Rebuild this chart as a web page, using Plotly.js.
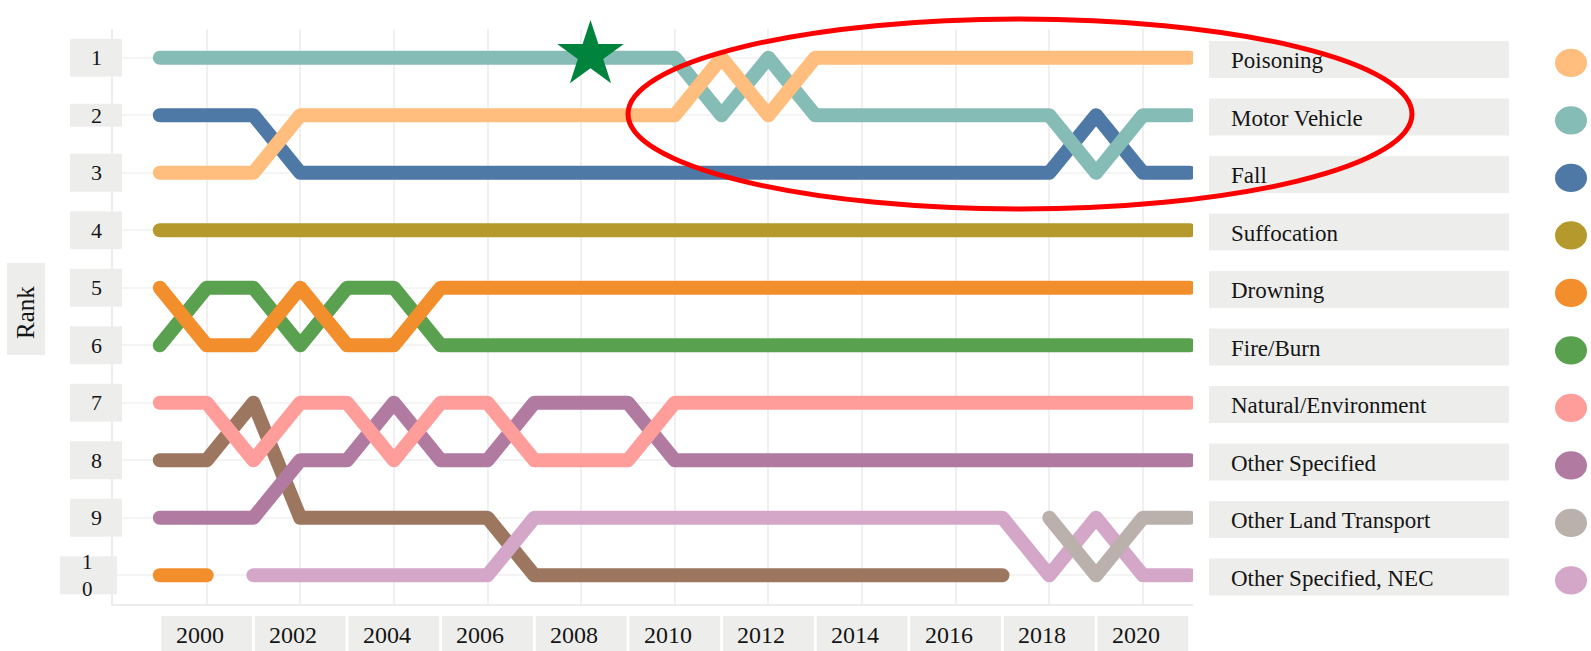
<!DOCTYPE html>
<html>
<head>
<meta charset="utf-8">
<script src="https://cdn.plot.ly/plotly-3.0.1.min.js"></script>
<style>
  html, body { margin: 0; padding: 0; background: #ffffff; }
  #chart { width: 1591px; height: 651px; }
  path.js-line { stroke-linecap: round !important; stroke-linejoin: round !important; }
</style>
</head>
<body>
<div id="chart"></div>
<script>
// ---------------- DATA ----------------
const years = [1999,2000,2001,2002,2003,2004,2005,2006,2007,2008,2009,2010,2011,2012,2013,2014,2015,2016,2017,2018,2019,2020,2021];

const poisoning      = [3,3,3,2,2,2,2,2,2,2,2,2,1,2,1,1,1,1,1,1,1,1,1];
const motorVehicle   = [1,1,1,1,1,1,1,1,1,1,1,1,2,1,2,2,2,2,2,2,3,2,2];
const fall           = [2,2,2,3,3,3,3,3,3,3,3,3,3,3,3,3,3,3,3,3,2,3,3];
const suffocation    = [4,4,4,4,4,4,4,4,4,4,4,4,4,4,4,4,4,4,4,4,4,4,4];
const drowning       = [5,6,6,5,6,6,5,5,5,5,5,5,5,5,5,5,5,5,5,5,5,5,5];
const fireBurn       = [6,5,5,6,5,5,6,6,6,6,6,6,6,6,6,6,6,6,6,6,6,6,6];
const naturalEnv     = [7,7,8,7,7,8,7,7,8,8,8,7,7,7,7,7,7,7,7,7,7,7,7];
const otherSpecified = [9,9,9,8,8,7,8,8,7,7,7,8,8,8,8,8,8,8,8,8,8,8,8];
const otherLandTrans = [null,null,null,null,null,null,null,null,null,null,null,null,null,null,null,null,null,null,null,9,10,9,9];
const otherSpecNEC   = [null,null,10,10,10,10,10,10,9,9,9,9,9,9,9,9,9,9,9,10,9,10,10];
// series drawn in the chart but not listed in its legend
const unlistedBrown  = [8,8,7,9,9,9,9,9,10,10,10,10,10,10,10,10,10,10,10,null,null,null,null];
const unlistedOrange = [10,10,null,null,null,null,null,null,null,null,null,null,null,null,null,null,null,null,null,null,null,null,null];

const legendNames = ["Poisoning","Motor Vehicle","Fall","Suffocation","Drowning","Fire/Burn",
                     "Natural/Environment","Other Specified","Other Land Transport","Other Specified, NEC"];
const legendSeries = [poisoning, motorVehicle, fall, suffocation, drowning, fireBurn,
                      naturalEnv, otherSpecified, otherLandTrans, otherSpecNEC];
const rankLabels = ["1","2","3","4","5","6","7","8","9","1<br>0"];
const tickYears  = [2000,2002,2004,2006,2008,2010,2012,2014,2016,2018,2020];
const tickLabels = ["2000","2002","2004","2006","2008","2010","2012","2014","2016","2018","2020"];
const starPoint  = {x: 2008.2, y: 0.95};

// ---------------- STYLE ----------------
const colors = ["#FFBE7D","#86BCB6","#4E79A7","#B6992D","#F28E2B","#59A14F",
                "#FF9D9A","#B07AA1","#BAB0AC","#D4A6C8"];
const brownColor = "#9D7660";
const FONT = "Liberation Serif, Times New Roman, serif";
const BOX = "#EDEEEC";
const TXT = "#151515";
const LW = 14;

const W = 1591, H = 651;
const M = {l: 113, r: 398, t: 29, b: 47};
const plotW = W - M.l - M.r, plotH = H - M.t - M.b;
const px2x = px => (px - M.l) / plotW;          // pixel -> paper x
const py2y = py => 1 - (py - M.t) / plotH;      // pixel -> paper y

// ---------------- TRACES ----------------
const traces = [];
function lineTrace(name, ys, color) {
  return {
    type: "scatter", mode: "lines", name: name,
    x: years, y: ys,
    line: {color: color, width: LW, shape: "linear"},
    connectgaps: false, hoverinfo: "skip", showlegend: false
  };
}
traces.push(lineTrace("Unlisted series (brown)", unlistedBrown, brownColor));
traces.push(lineTrace("Unlisted series (orange)", unlistedOrange, colors[4]));
for (let i = legendNames.length - 1; i >= 0; i--) {
  traces.push(lineTrace(legendNames[i], legendSeries[i], colors[i]));
}
traces.push({
  type: "scatter", mode: "markers", x: [starPoint.x], y: [starPoint.y],
  marker: {symbol: "star", size: 50, color: "#00843D", line: {width: 0}},
  cliponaxis: false, hoverinfo: "skip", showlegend: false
});

// ---------------- DECORATIONS ----------------
const shapes = [];
const annotations = [];

// rank labels on the left
rankLabels.forEach((t, i) => {
  const r = i + 1;
  const half = (r === 2) ? 0.2 : 0.33;
  const x0 = (r === 10) ? px2x(60) : px2x(70);
  const x1 = (r === 10) ? px2x(117) : px2x(122);
  shapes.push({type: "rect", xref: "paper", yref: "y", x0: x0, x1: x1, y0: r - half, y1: r + half,
               fillcolor: BOX, line: {width: 0}, layer: "above"});
  annotations.push({xref: "paper", yref: "y", x: (r === 10) ? px2x(87) : px2x(96), y: r,
                    text: t, showarrow: false, xanchor: "center", yanchor: "middle",
                    font: {family: FONT, size: (r === 10) ? 21 : 22, color: TXT}});
});

// axis title "Rank"
shapes.push({type: "rect", xref: "paper", yref: "paper", x0: px2x(7), x1: px2x(45), y0: py2y(355), y1: py2y(263),
             fillcolor: BOX, line: {width: 0}, layer: "above"});
annotations.push({xref: "paper", yref: "paper", x: px2x(26), y: py2y(313), text: "Rank", textangle: -90,
                  showarrow: false, xanchor: "center", yanchor: "middle",
                  font: {family: FONT, size: 25, color: TXT}});

// x tick labels with boxes
tickYears.forEach((yr, i) => {
  shapes.push({type: "rect", xref: "x", yref: "paper", x0: yr - 0.97, x1: yr + 0.97,
               y0: py2y(651), y1: py2y(616), fillcolor: BOX, line: {width: 0}, layer: "above"});
  annotations.push({xref: "x", yref: "paper", x: yr - 0.15, y: py2y(635), text: tickLabels[i],
                    showarrow: false, xanchor: "center", yanchor: "middle",
                    font: {family: FONT, size: 24, color: TXT}});
});

// legend on the right
legendNames.forEach((name, i) => {
  const r = i + 1;
  shapes.push({type: "rect", xref: "paper", yref: "y", x0: px2x(1209), x1: px2x(1509),
               y0: r + 0.03 - 0.322, y1: r + 0.03 + 0.322, fillcolor: BOX, line: {width: 0}, layer: "above"});
  annotations.push({xref: "paper", yref: "y", x: px2x(1229), y: r + 0.05, text: name,
                    showarrow: false, xanchor: "left", yanchor: "middle",
                    font: {family: FONT, size: 23, color: TXT}});
  shapes.push({type: "circle", xref: "paper", yref: "y", x0: px2x(1555), x1: px2x(1587),
               y0: r + 0.09 - 0.245, y1: r + 0.09 + 0.245, fillcolor: colors[i], line: {width: 0}, layer: "above"});
});

// red highlight ellipse
shapes.push({type: "circle", xref: "paper", yref: "paper", x0: px2x(628), x1: px2x(1412),
             y0: py2y(209), y1: py2y(19), line: {color: "#FF0000", width: 5},
             fillcolor: "rgba(0,0,0,0)", layer: "above"});

// ---------------- LAYOUT ----------------
const layout = {
  width: W, height: H,
  margin: M,
  paper_bgcolor: "#ffffff", plot_bgcolor: "#ffffff",
  showlegend: false, hovermode: false,
  xaxis: {range: [1998, 2021.07], tick0: 1998, dtick: 2, showticklabels: false, ticks: "",
          showgrid: true, gridcolor: "#f0f0f0", gridwidth: 2, zeroline: false,
          showline: true, linecolor: "#ececec", linewidth: 2},
  yaxis: {range: [10.5, 0.5], tick0: 1, dtick: 1, showticklabels: false, ticks: "",
          showgrid: true, gridcolor: "#f4f4f4", gridwidth: 2, zeroline: false,
          showline: true, linecolor: "#ececec", linewidth: 2},
  shapes: shapes,
  annotations: annotations
};

Plotly.newPlot("chart", traces, layout, {displayModeBar: false, staticPlot: true});
</script>
</body>
</html>
